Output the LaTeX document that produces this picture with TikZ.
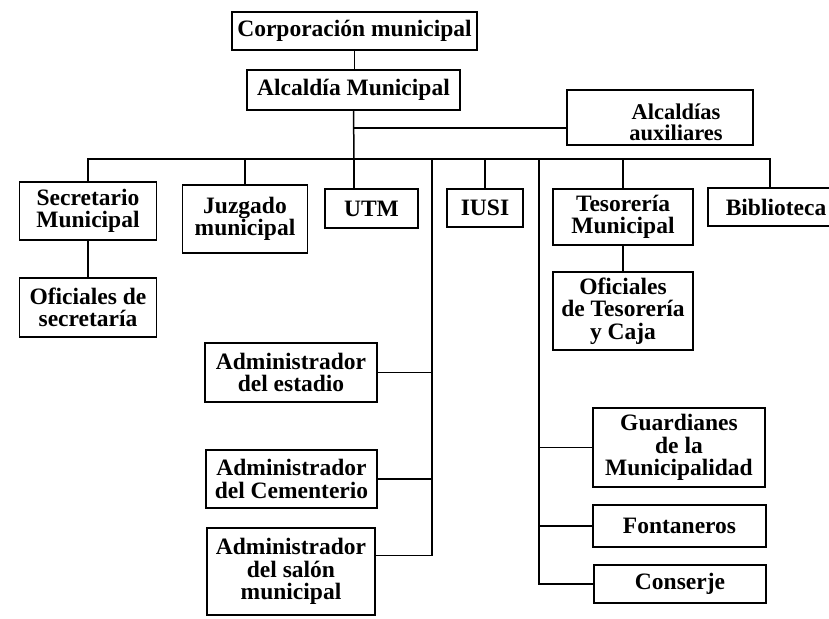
\documentclass[tikz,border=0pt]{standalone}
\usepackage{fontspec}
\setmainfont{Liberation Serif}
\begin{document}
\begin{tikzpicture}[x=1pt, y=-1pt,
            box/.style={draw=black, line width=1.5pt, inner sep=2pt, align=center, font=\bfseries\fontsize{23.5}{22.5}\selectfont},
            ln/.style={draw=black, line width=1.5pt}]
            \useasboundingbox (0,0) rectangle (829,618);
            \node[box, minimum width=245pt, minimum height=38pt] (corp) at (354.5,31) {Corporación municipal};
            \node[box, minimum width=213pt, minimum height=40pt] (alc) at (353.5,90) {Alcaldía Municipal};
            \node[box, minimum width=186pt, minimum height=55pt, font=\bfseries\fontsize{22.5}{21}\selectfont] (aux) at (660,117.5) {\rule{0pt}{25pt}\hspace*{32pt}Alcaldías\\\hspace*{32pt}auxiliares};
            \node[box, minimum width=137pt, minimum height=58pt] (sec) at (88,211) {Secretario\\Municipal};
            \node[box, minimum width=125pt, minimum height=68pt] (juz) at (245,219) {Juzgado\\municipal};
            \node[box, minimum width=93pt, minimum height=39pt] (utm) at (371.5,208.5) {UTM};
            \node[box, minimum width=76pt, minimum height=38pt] (iusi) at (485,208) {IUSI};
            \node[box, minimum width=140pt, minimum height=56pt] (tes) at (623,217) {Tesorería\\Municipal};
            \node[box, minimum width=136pt, minimum height=38pt] (bib) at (776,207) {Biblioteca};
            \node[box, minimum width=137pt, minimum height=59pt] (osec) at (88,307.5) {Oficiales de\\secretaría};
            \node[box, minimum width=140pt, minimum height=78pt] (otes) at (623,311) {Oficiales\\de Tesorería\\y Caja};
            \node[box, minimum width=172pt, minimum height=59pt] (aest) at (291,372.5) {Administrador\\del estadio};
            \node[box, minimum width=171pt, minimum height=58pt] (acem) at (291.5,479) {Administrador\\del Cementerio};
            \node[box, minimum width=168pt, minimum height=87pt] (asal) at (291,571.5) {Administrador\\del salón\\municipal};
            \node[box, minimum width=172pt, minimum height=79pt] (guar) at (679,447.5) {Guardianes\\de la\\Municipalidad};
            \node[box, minimum width=173pt, minimum height=42pt] (fon) at (679.5,526) {Fontaneros};
            \node[box, minimum width=172pt, minimum height=38pt] (con) at (680,584) {Conserje};
            \coordinate (jn) at (354,128);
            \coordinate (bus) at (354,159);
            \coordinate (busR) at (770,159);
            \coordinate (colL) at (432,159);
            \coordinate (colR) at (539,159);
            \draw[ln] (corp.south) -- (corp.south |- alc.north);
            \draw[ln] (alc.south) -- (bus);
            \draw[ln] (jn) -- (jn -| aux.west);
            \draw[ln] (sec.north) |- (busR) -- (busR |- bib.north);
            \draw[ln] (bus) -- (bus |- utm.north);
            \foreach \n in {juz, iusi, tes} { \draw[ln] (\n.north) -- (\n.north |- bus); }
            \draw[ln] (sec) -- (osec);
            \draw[ln] (tes) -- (otes);
            \draw[ln] (colL) |- ([yshift=16pt]asal.east);
            \foreach \n in {aest, acem} { \draw[ln] (\n.east) -- (\n.east -| colL); }
            \draw[ln] (colR) |- (con.west);
            \foreach \n in {guar, fon} { \draw[ln] (\n.west) -- (\n.west -| colR); }
        \end{tikzpicture}
\end{document}
